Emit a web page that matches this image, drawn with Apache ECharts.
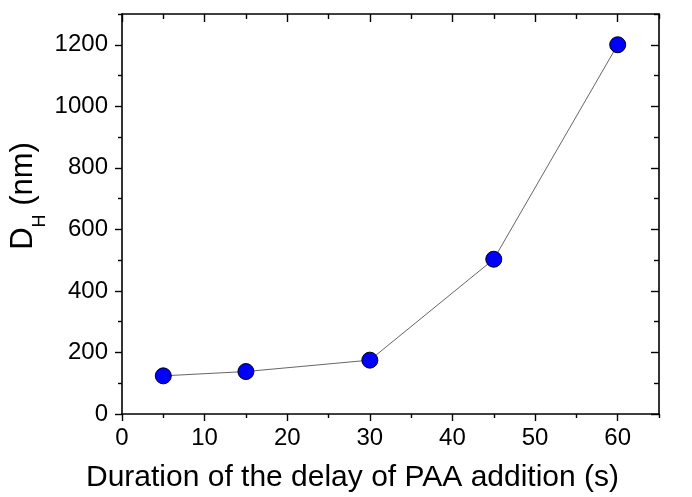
<!DOCTYPE html>
<html>
<head>
<meta charset="utf-8">
<script src="https://cdn.jsdelivr.net/npm/echarts@6/dist/echarts.min.js"></script>
<style>
  html, body { margin: 0; padding: 0; background: #ffffff; }
  #chart { width: 692px; height: 497px; }
</style>
</head>
<body>
<div id="chart"></div>
<script>
// Hydrodynamic diameter vs. delay before PAA addition
const delaySeconds = [5, 15, 30, 45, 60];
const diameterNm = [124, 138, 175, 503, 1200];

const xMajorTicks = [0, 10, 20, 30, 40, 50, 60];
const xMinorTicks = [5, 15, 25, 35, 45, 55, 65];
const yMajorTicks = [0, 200, 400, 600, 800, 1000, 1200];
const yMinorTicks = [100, 300, 500, 700, 900, 1100, 1300];

const FONT = 'Liberation Sans, Arial, sans-serif';
const X_MIN = 0, X_MAX = 65, Y_MIN = 0, Y_MAX = 1300;

function frameAxis(kind, position, ticks, len, inside, main) {
  return {
    type: 'value',
    position: position,
    min: kind === 'x' ? X_MIN : Y_MIN,
    max: kind === 'x' ? X_MAX : Y_MAX,
    splitLine: { show: false },
    axisLine: { show: !!main, onZero: false, lineStyle: { color: '#000', width: 1.6 } },
    axisTick: { show: true, inside: inside, length: len, customValues: ticks,
                lineStyle: { color: '#000', width: 1.4 } },
    axisLabel: { show: false }
  };
}

const plainNumber = v => String(v);

const chart = echarts.init(document.getElementById('chart'), null, { renderer: 'canvas' });

const xBottom = frameAxis('x', 'bottom', xMajorTicks, 7, false, true);
xBottom.axisLabel = { show: true, customValues: xMajorTicks, margin: 12, formatter: plainNumber,
  fontFamily: FONT, fontSize: 24, color: '#000' };
xBottom.name = 'Duration of the delay of PAA addition (s)';
xBottom.nameLocation = 'middle';
xBottom.nameGap = 49;
xBottom.nameMoveOverlap = false;
xBottom.nameTextStyle = { fontFamily: FONT, fontSize: 30, color: '#000', padding: [0, 76, 0, 0] };

const yLeft = frameAxis('y', 'left', yMajorTicks, 7, false, true);
yLeft.axisLabel = { show: true, customValues: yMajorTicks, margin: 14, formatter: plainNumber,
  fontFamily: FONT, fontSize: 24, color: '#000' };
yLeft.name = '{m|D}{s|H}{m| (nm)}';
yLeft.nameLocation = 'middle';
yLeft.nameRotate = 90;
yLeft.nameGap = 82;
yLeft.nameMoveOverlap = false;
yLeft.nameTextStyle = {
  padding: [0, 0, 0, 36],
  rich: {
    m: { fontFamily: FONT, fontSize: 31, color: '#000', lineHeight: 32, verticalAlign: 'top' },
    s: { fontFamily: FONT, fontSize: 18, color: '#000', lineHeight: 18, verticalAlign: 'top', padding: [23.5, 0, 0, 0] }
  }
};

const option = {
  backgroundColor: '#ffffff',
  animation: false,
  grid: { left: 122, right: 33, top: 14, bottom: 83, containLabel: false, outerBoundsMode: 'none' },
  xAxis: [
    xBottom,
    frameAxis('x', 'bottom', xMinorTicks, 4, false, false),
    frameAxis('x', 'top', xMajorTicks, 8, true, true),
    frameAxis('x', 'top', xMinorTicks, 5, true, false)
  ],
  yAxis: [
    yLeft,
    frameAxis('y', 'left', yMinorTicks, 4, false, false),
    frameAxis('y', 'right', yMajorTicks, 8, true, true),
    frameAxis('y', 'right', yMinorTicks, 5, true, false)
  ],
  series: [{
    type: 'line',
    xAxisIndex: 0,
    yAxisIndex: 0,
    data: delaySeconds.map((d, i) => [d, diameterNm[i]]),
    symbol: 'circle',
    symbolSize: 16,
    lineStyle: { color: '#555', width: 0.9 },
    itemStyle: { color: '#0000ff', borderColor: '#000', borderWidth: 1 },
    z: 5
  }]
};

chart.setOption(option);
</script>
</body>
</html>
